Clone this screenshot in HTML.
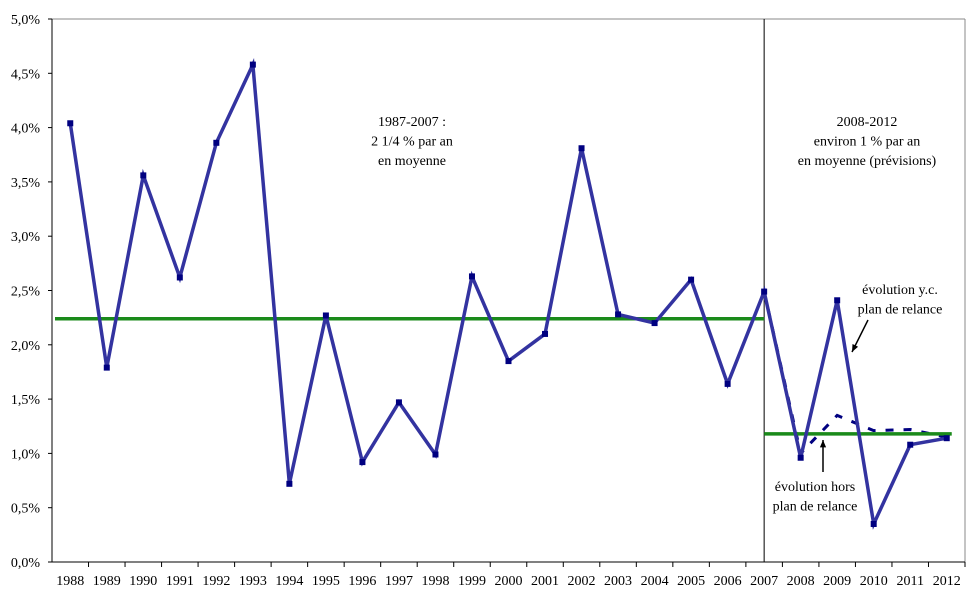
<!DOCTYPE html>
<html><head><meta charset="utf-8"><style>
body{margin:0;background:#fff;}
svg text{font-family:"Liberation Serif",serif;font-size:14px;fill:#000;}
</style></head><body>
<svg id="c" width="969" height="603"></svg>
<script>
const years=['1988','1989','1990','1991','1992','1993','1994','1995','1996','1997','1998','1999','2000','2001','2002','2003','2004','2005','2006','2007','2008','2009','2010','2011','2012'];
const withPlan=[4.04,1.79,3.56,2.62,3.86,4.58,0.72,2.27,0.92,1.47,0.99,2.63,1.85,2.10,3.81,2.28,2.20,2.60,1.64,2.49,0.96,2.41,0.35,1.08,1.14];
const withoutPlanYears=['2007','2008','2009','2010','2011','2012'];
const withoutPlan=[2.49,1.0,1.35,1.21,1.22,1.15];
const avg1=2.24, avg2=1.18;
const yTicks=[0,0.5,1,1.5,2,2.5,3,3.5,4,4.5,5];
const yTickLabels=['0,0%','0,5%','1,0%','1,5%','2,0%','2,5%','3,0%','3,5%','4,0%','4,5%','5,0%'];
const NS='http://www.w3.org/2000/svg';
const svg=document.getElementById('c');
const L=52,R=965,T=19,B=562;
const bw=(R-L)/years.length;
const x=i=>L+bw*(i+0.5);
const xy=yr=>x(years.indexOf(yr));
const y=v=>B-(B-T)*v/5;
function mk(t,a,parent){const e=document.createElementNS(NS,t);for(const k in a)e.setAttribute(k,a[k]);(parent||svg).appendChild(e);return e;}
let e;
e=mk('line',{x1:L,y1:T,x2:R,y2:T,stroke:'#888'});


e=mk('line',{x1:R,y1:T,x2:R,y2:B,stroke:'#888'});


e=mk('line',{x1:L,y1:T,x2:L,y2:B,stroke:'#000'});


e=mk('line',{x1:L,y1:B,x2:R,y2:B,stroke:'#000'});


yTicks.forEach((v,i)=>{
  let t=mk('line',{x1:L-4,y1:y(v),x2:L,y2:y(v),stroke:'#000'});
  
  
  let l=mk('text',{x:L-12,y:y(v)+5,'text-anchor':'end'});l.textContent=yTickLabels[i];
  
  
});
years.forEach((yr,i)=>{
  let t=mk('line',{x1:L+bw*(i+1),y1:B,x2:L+bw*(i+1),y2:B+5,stroke:'#000'});
  
  
  let l=mk('text',{x:x(i),y:B+23,'text-anchor':'middle'});l.textContent=yr;
  
  
});
e=mk('line',{x1:xy('2007'),y1:T,x2:xy('2007'),y2:B,stroke:'#000'});


e=mk('line',{x1:L+3,y1:y(avg1),x2:xy('2007'),y2:y(avg1),stroke:'#1a8a1a','stroke-width':3.5});


e=mk('polyline',{points:withoutPlan.map((v,i)=>xy(withoutPlanYears[i])+','+y(v)).join(' '),fill:'none',stroke:'#000080','stroke-width':3,'stroke-dasharray':'8,10'});


e=mk('line',{x1:xy('2007'),y1:y(avg2),x2:xy('2012')+5,y2:y(avg2),stroke:'#1a8a1a','stroke-width':3.5});


e=mk('polyline',{points:withPlan.map((v,i)=>x(i)+','+y(v)).join(' '),fill:'none',stroke:'#3333a0','stroke-width':3.5});


withPlan.forEach((v,i)=>{
  let m=mk('rect',{x:x(i)-3,y:y(v)-3,width:6,height:6,fill:'#000080'});
  
  
});
function txt(lines,cx,cy,name,anchor){
  const g=mk('text',{x:cx,y:cy,'text-anchor':anchor||'middle'});
  
  
  lines.forEach((s,i)=>{const t=mk('tspan',{x:cx,dy:i?19.5:0},g);t.textContent=s;});
}
txt(['1987-2007 :','2 1/4 % par an','en moyenne'],412,126,'annotation-1987-2007');
txt(['2008-2012','environ 1 % par an','en moyenne (prévisions)'],867,126,'annotation-2008-2012');
txt(['évolution y.c.','plan de relance'],900,294,'label-with-plan');
txt(['évolution hors','plan de relance'],815,491,'label-without-plan');
function arrow(x1,y1,x2,y2,name){
  const g=mk('g',{});
  mk('line',{x1,y1,x2,y2,stroke:'#000','stroke-width':1.5},g);
  const a=Math.atan2(y2-y1,x2-x1),s=8;
  mk('polygon',{points:`${x2},${y2} ${x2-s*Math.cos(a-0.4)},${y2-s*Math.sin(a-0.4)} ${x2-s*Math.cos(a+0.4)},${y2-s*Math.sin(a+0.4)}`,fill:'#000'},g);
}
arrow(868,320,852,352,'arrow-with-plan');
arrow(823,472,823,440,'arrow-without-plan');
</script>
</body></html>
